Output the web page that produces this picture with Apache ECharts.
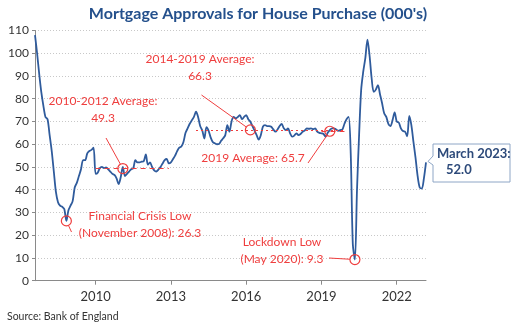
<!DOCTYPE html>
<html><head><meta charset="utf-8">
<script src="https://cdn.jsdelivr.net/npm/echarts@6/dist/echarts.min.js"></script>
<style>html,body{margin:0;padding:0;background:#fff}#c{width:516px;height:326px}</style>
</head><body><div id="c"></div>
<script>
// Monthly mortgage approvals (000's), Aug 2007 .. Mar 2023
const startYear = 2007, startMonth = 8;
const approvals = [
108,100,91,83,77,72,71,64,57,48,39,34.5,33,32.5,31.5,26.3,31,33,35,41,
43,46,49,53,53,56,57,57.5,58.5,47,47.5,49.5,50,49.5,49.8,49,48,47,46.5,45,
42.5,45.5,50,46,47,48,49,49.5,53,52,52,52.3,52.5,55.5,51,52,50,48.5,48,48.8,
50,51.5,53,53.5,51.6,52,53.5,55,57,58.5,59,61,65,67,69,70.5,72,74.3,72,68,
66,62.5,67.5,66,63,61,60.4,60,60.1,61.5,62.6,64,68.4,65.5,70,72,71.4,72,72.8,71,
72,72.8,71,69.9,68,66,64,62,64,67.7,68.4,68,68,67.7,66.5,65.5,66.5,68,68.9,67,
66.2,67,64.8,63.3,63.8,64.8,64,64.5,65.5,66,67,66.8,67,66.6,67,65.5,65,64.8,64.5,63.3,
65,66.2,67,67,66.5,65.9,66.2,66.5,69,71,72,56,16,9.3,40,64,84,92,98,106,
99,89,83,84,86,82,78,73.6,72,69,68,70.6,74,70,69.5,67,65.8,65.5,63.5,72.5,
68.4,61,54,46,41,40.5,45,52.0
];
const tickYears = ['2010','2013','2016','2019','2022'];
const yTicks = [0,10,20,30,40,50,60,70,80,90,100,110];
// averages: [from, to, value]
const avgPeriods = [['2010-01','2012-12',49.3],['2014-01','2019-12',66.3],['2019-01','2019-12',65.7]];
const highlightPoints = [['2011-02',49.3],['2016-03',66.3],['2019-05',65.7],['2008-11',26.3],['2020-05',9.3]];
const annotationTexts = [
  '2010-2012 Average:\n49.3',
  '2014-2019 Average:\n66.3',
  '2019 Average: 65.7',
  'Financial Crisis Low\n(November 2008): 26.3',
  'Lockdown Low\n(May 2020): 9.3'
];
const lastLabel = ['March 2023:', '52.0'];

const months = approvals.map((_, i) => {
  const m = startMonth - 1 + i;
  const y = startYear + Math.floor(m / 12);
  const mm = (m % 12) + 1;
  return y + '-' + (mm < 10 ? '0' : '') + mm;
});
const RED = '#ef3e3e';
const BLUE = '#2f5b9c';
const FONT = 'Lato';
const showIdx = i => tickYears.includes(months[i].slice(0,4)) && months[i].slice(5) === '01';

const chart = echarts.init(document.getElementById('c'), null, {renderer:'canvas'});
chart.setOption({
  animation:false,
  textStyle:{fontFamily:FONT},
  title:{text:'Mortgage Approvals for House Purchase (000\'s)', left:'center', top:1,
    textStyle:{fontFamily:FONT, fontSize:16, fontWeight:'bold', color:'#24508c'}},
  grid:{left:35, right:90, top:30.5, bottom:45.3, containLabel:false},
  xAxis:{type:'category', data:months, boundaryGap:false,
    axisLine:{lineStyle:{color:'#8a8a8a', width:1}},
    axisTick:{show:true, interval:(i)=>showIdx(i), length:4, lineStyle:{color:'#8a8a8a'}},
    axisLabel:{interval:(i)=>showIdx(i), formatter:v=>v.slice(0,4), color:'#333', fontSize:13, margin:10, fontFamily:FONT},
    splitLine:{show:false}},
  yAxis:{type:'value', min:0, max:110, interval:10,
    axisLine:{show:true, lineStyle:{color:'#8a8a8a'}},
    axisTick:{show:true, length:3, lineStyle:{color:'#8a8a8a'}},
    axisLabel:{color:'#333', fontSize:12, margin:6, fontFamily:FONT},
    splitLine:{lineStyle:{color:'#c8c8c8', type:[1,2]}}},
  series:[{
    type:'line', data:approvals, symbol:'none', smooth:0.3,
    lineStyle:{color:BLUE, width:1.8},
    z:3,
    markLine:{silent:true, symbol:'none', label:{show:false},
      data: avgPeriods.map((p,k)=>[
        {coord:[p[0],p[2]], lineStyle:{color:RED, width:1, type: k===1?[2,3]:[5,4]}},
        {coord:[p[1],p[2]]}
      ])},
    markPoint:{silent:true, symbol:'circle', symbolSize:10, label:{show:false},
      itemStyle:{color:'rgba(0,0,0,0)', borderColor:RED, borderWidth:1.2},
      data: highlightPoints.map(p=>({coord:[p[0],p[1]]}))}
  }]
});

// annotation layout (pixel positions of text and leader ends)
const textPos = [[103,110,'center'],[200,68,'center'],[253,158,'center'],[140,225,'center'],[282,251,'center']];
const leaderFrom = [[106,138],[201.5,95],[308,163],[71.5,232],[329,258]];
const g = [];
annotationTexts.forEach((t,k)=>{
  g.push({type:'text', x:textPos[k][0], y:textPos[k][1], z:10,
    style:{text:t, fill:RED, font:'12px '+FONT, textAlign:textPos[k][2], textVerticalAlign:'middle', lineHeight:17}});
  const c = chart.convertToPixel({seriesIndex:0}, highlightPoints[k]);
  const dx = leaderFrom[k][0]-c[0], dy = leaderFrom[k][1]-c[1];
  const d = Math.hypot(dx,dy);
  g.push({type:'line', z:10, shape:{x1:leaderFrom[k][0], y1:leaderFrom[k][1], x2:c[0]+dx/d*5, y2:c[1]+dy/d*5},
    style:{stroke:RED, lineWidth:1}});
});
const last = chart.convertToPixel({seriesIndex:0}, [months[months.length-1], approvals[approvals.length-1]]);
g.push({type:'polygon', z:10, shape:{points:[[433,144],[510,144],[510,182],[433,182],[433,165],[last[0]+2,last[1]-1],[433,156]]},
  style:{fill:'#fff', stroke:'#8ea6c6', lineWidth:1}});
g.push({type:'text', x:437, y:154, z:11, style:{text:lastLabel[0], fill:'#2d4a7a', font:'bold 13px '+FONT, textVerticalAlign:'middle'}});
g.push({type:'text', x:446, y:170, z:11, style:{text:lastLabel[1], fill:'#2d4a7a', font:'bold 13px '+FONT, textVerticalAlign:'middle'}});
g.push({type:'text', x:7, y:317, z:10, style:{text:'Source: Bank of England', fill:'#333', font:'10.5px '+FONT, textVerticalAlign:'middle'}});
chart.setOption({graphic:g});
</script></body></html>
